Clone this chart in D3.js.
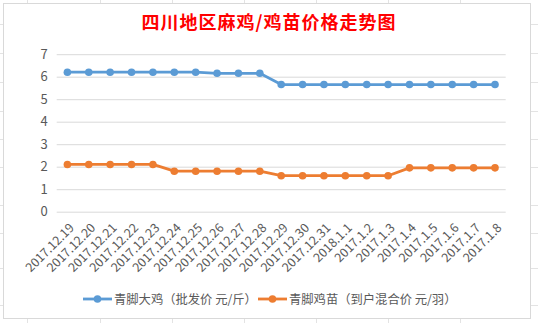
<!DOCTYPE html>
<html><head><meta charset="utf-8">
<script src="https://cdn.jsdelivr.net/npm/d3@7"></script>
<style>
html,body{margin:0;padding:0;background:#fff;}
svg{display:block;}
</style></head>
<body>
<svg id="c" width="538" height="323"></svg>
<script>
const categories = ["2017.12.19","2017.12.20","2017.12.21","2017.12.22","2017.12.23","2017.12.24","2017.12.25","2017.12.26","2017.12.27","2017.12.28","2017.12.29","2017.12.30","2017.12.31","2018.1.1","2017.1.2","2017.1.3","2017.1.4","2017.1.5","2017.1.6","2017.1.7","2017.1.8"];
const chickenPrice = [6.2,6.2,6.2,6.2,6.2,6.2,6.2,6.15,6.15,6.15,5.65,5.65,5.65,5.65,5.65,5.65,5.65,5.65,5.65,5.65,5.65];
const chickPrice = [2.1,2.1,2.1,2.1,2.1,1.8,1.8,1.8,1.8,1.8,1.6,1.6,1.6,1.6,1.6,1.6,1.95,1.95,1.95,1.95,1.95];
const yTicks = [0,1,2,3,4,5,6,7];
const seriesNames = ["青脚大鸡（批发价 元/斤）","青脚鸡苗（到户混合价 元/羽）"];
const title = "四川地区麻鸡/鸡苗价格走势图";

const colors = ["#5B9BD5","#ED7D31"];
const font = "'Noto Sans CJK SC','Noto Sans',sans-serif";
const svg = d3.select("#c");

// background sheet cell lines
const cellX = [27,100,172,244,316,388,460];
const cellY = [24,53,82,111,139,167,205,233,268,305];
const bg = svg.append("g").attr("stroke","#e3e3e3").attr("stroke-width",1);
cellX.forEach(x=>{ bg.append("line").attr("x1",x+.5).attr("x2",x+.5).attr("y1",0).attr("y2",3); bg.append("line").attr("x1",x+.5).attr("x2",x+.5).attr("y1",319).attr("y2",323);});
cellY.forEach(y=>{ bg.append("line").attr("x1",0).attr("x2",3).attr("y1",y+.5).attr("y2",y+.5); bg.append("line").attr("x1",531).attr("x2",538).attr("y1",y+.5).attr("y2",y+.5);});

// chart area
svg.append("rect").attr("x",3.5).attr("y",3.5).attr("width",527).attr("height",315).attr("fill","#fff").attr("stroke","#d9d9d9");

svg.append("text").attr("x",269).attr("y",29).attr("text-anchor","middle")
  .attr("font-family",font).attr("font-size",18).attr("font-weight","bold").attr("fill","#ff0000")
  .attr("letter-spacing",1).text(title);

const x = d3.scalePoint().domain(categories).range([56.7,505.7]).padding(0.5);
const y = d3.scaleLinear().domain([0,7]).range([211.7,54.2]);

const yAxis = svg.append("g").attr("transform","translate(56.7,0)")
  .call(d3.axisLeft(y).tickValues(yTicks).tickFormat(d3.format("d")).tickSize(-449).tickPadding(9));
yAxis.select(".domain").remove();
yAxis.selectAll("line").attr("stroke","#d9d9d9");
yAxis.selectAll("text").attr("font-family",font).attr("font-size",13).attr("fill","#595959");

const xAxis = svg.append("g").attr("transform","translate(0,211.7)")
  .call(d3.axisBottom(x).tickSize(0).tickPadding(0));
xAxis.select(".domain").remove();
xAxis.selectAll("text").attr("font-family",font).attr("font-size",12.5).attr("fill","#595959")
  .attr("text-anchor","end").attr("dy",0)
  .attr("transform","translate(7,17) rotate(-45)");

[chickenPrice, chickPrice].forEach((vals,i)=>{
  const line = d3.line().x((d,j)=>x(categories[j])).y(d=>y(d));
  svg.append("path").datum(vals).attr("d",line).attr("fill","none")
    .attr("stroke",colors[i]).attr("stroke-width",2.8).attr("stroke-linejoin","round");
  svg.append("g").selectAll("circle").data(vals).join("circle")
    .attr("cx",(d,j)=>x(categories[j])).attr("cy",d=>y(d)).attr("r",3.8).attr("fill",colors[i]);
});

// legend
const lg = [{x0:83,tx:114},{x0:258,tx:289}];
lg.forEach((l,i)=>{
  svg.append("line").attr("x1",l.x0).attr("x2",l.x0+29).attr("y1",299).attr("y2",299)
    .attr("stroke",colors[i]).attr("stroke-width",2.8);
  svg.append("circle").attr("cx",l.x0+14.5).attr("cy",299).attr("r",3.8).attr("fill",colors[i]);
  svg.append("text").attr("x",l.tx).attr("y",303.5).attr("font-family",font).attr("font-size",12.3)
    .attr("fill","#595959").text(seriesNames[i]);
});
</script>
</body></html>
